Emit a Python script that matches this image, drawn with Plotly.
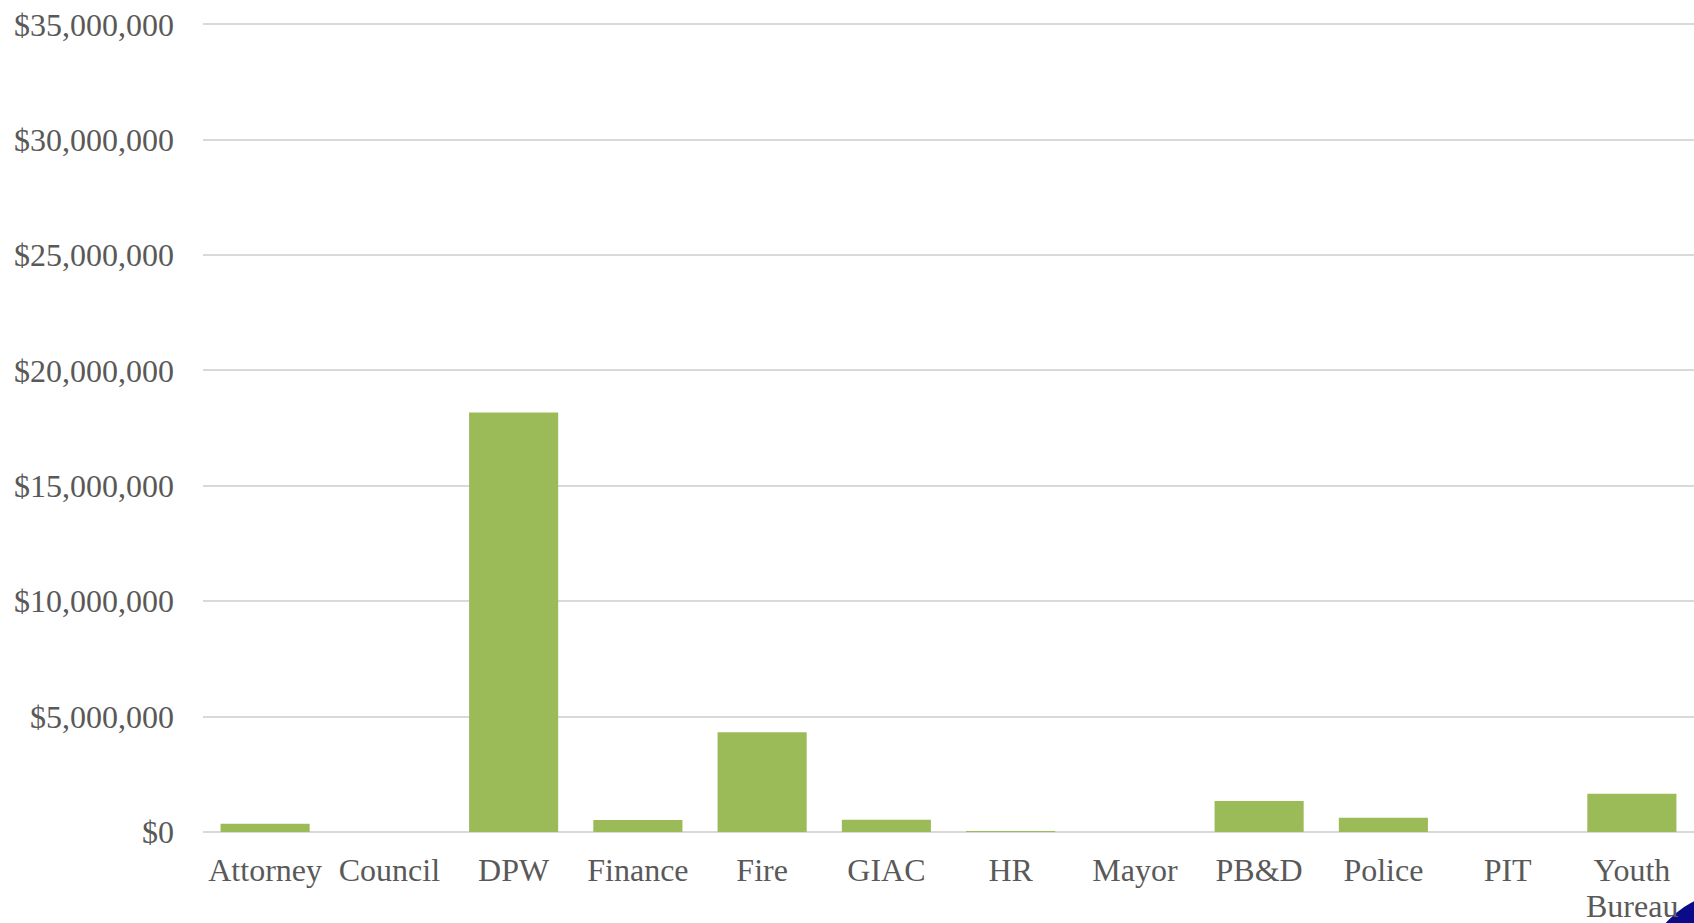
import plotly.graph_objects as go

departments = ["Attorney", "Council", "DPW", "Finance", "Fire", "GIAC", "HR",
               "Mayor", "PB&D", "Police", "PIT", "Youth Bureau"]
amounts = [360000, 0, 18180000, 520000, 4320000, 530000, 40000,
           0, 1340000, 620000, 0, 1660000]
# category labels as they wrap under the axis (first line, second line)
label_line1 = ["Attorney", "Council", "DPW", "Finance", "Fire", "GIAC", "HR",
               "Mayor", "PB&D", "Police", "PIT", "Youth"]
label_line2 = ["", "", "", "", "", "", "", "", "", "", "", "Bureau"]
tick_values = [0, 5000000, 10000000, 15000000, 20000000, 25000000, 30000000, 35000000]
tick_labels = ["$0", "$5,000,000", "$10,000,000", "$15,000,000", "$20,000,000",
               "$25,000,000", "$30,000,000", "$35,000,000"]

FONT = "Palatino Linotype, Book Antiqua, Palatino, Liberation Serif, serif"
TXT = "#595959"

fig = go.Figure(go.Bar(
    x=departments, y=amounts,
    marker=dict(color="#9bbb59", line=dict(width=0)),
))

fig.update_layout(
    width=1694, height=923,
    margin=dict(l=203, r=0, t=22, b=91),
    paper_bgcolor="white", plot_bgcolor="white",
    bargap=0.283,
    showlegend=False,
    font=dict(family=FONT, size=32, color=TXT),
)
fig.update_xaxes(
    showgrid=False, showline=False, ticks="", automargin=False,
    tickmode="array", tickvals=departments, ticktext=label_line1,
    tickfont=dict(family=FONT, size=32, color=TXT),
    ticklabelstandoff=16,
)
for cat, second in zip(departments, label_line2):
    if second:
        fig.add_annotation(x=cat, xref="x", y=0, yref="paper", text=second,
                           showarrow=False, yanchor="middle", yshift=-74,
                           font=dict(family=FONT, size=32, color=TXT))
fig.update_yaxes(
    range=[0, 35100000], tickvals=tick_values, ticktext=tick_labels,
    showgrid=True, gridcolor="#d9d9d9", gridwidth=1.6,
    zeroline=True, zerolinecolor="#d9d9d9", zerolinewidth=2.2,
    showline=False, ticks="", ticklabelstandoff=28, automargin=False,
    ticklabeloverflow="allow",
    tickfont=dict(family=FONT, size=32, color=TXT),
)
# navy decorative blob partly visible at the bottom-right corner
fig.add_shape(type="circle", xref="paper", yref="paper",
              x0=0.9638, x1=1.0979, y0=-0.3185, y1=-0.0716,
              fillcolor="#0b0b8a", line=dict(width=0), layer="above")

fig.write_html(
    "out.html",
    config={"displayModeBar": False},
    post_script="document.body.style.margin='0';document.body.style.overflow='hidden';",
)
